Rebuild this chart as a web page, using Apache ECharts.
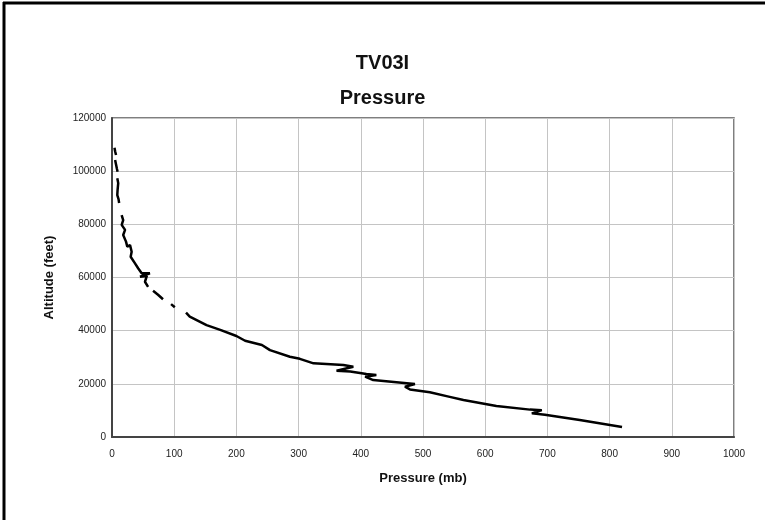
<!DOCTYPE html>
<html>
<head>
<meta charset="utf-8">
<script src="https://cdn.jsdelivr.net/npm/echarts@6/dist/echarts.min.js"></script>
<style>
html,body{margin:0;padding:0;background:#fff;}
#chart{width:765px;height:520px;}
</style>
</head>
<body>
<div id="chart"></div>
<script>
// Pressure (mb) and altitude (ft); null marks a break in the trace
var pressure = [
  4, 5, 6.5, null,
  5, 6.5, 8, 9, null,
  8.5, 10, 9, 8.5, 10.5, 11.5, null,
  15.5, 18, 15.6, 21, 18, 22.5, 24.6, 29, 31.6, 30, 37, 42, 47.7, 61, 45, 56, 53, 58, null,
  66, 74, 82, null,
  95, 101, null,
  119, 125, 152, 174, 200, 214, 241, 254, 286, 302, 324, 372, 388, 361, 383, 409, 425, 407, 420, 474, 487, 471, 479, 511, 543, 565, 618, 672, 691, 675, 696, 752, 820
];
var altitude = [
  108800, 107500, 106100, null,
  104200, 102500, 100800, 99800, null,
  97300, 95500, 93000, 91000, 89500, 88000, null,
  83500, 81600, 79800, 77900, 76000, 73500, 71600, 72200, 69700, 67800, 65300, 63500, 61600, 61600, 60300, 60600, 58400, 56500, null,
  55000, 53500, 51800, null,
  50000, 48800, null,
  46800, 45300, 42100, 40300, 38000, 36200, 34600, 32700, 30200, 29400, 27700, 27100, 26400, 24900, 24600, 23700, 23300, 22700, 21400, 20200, 19900, 18900, 17900, 16800, 15100, 13900, 11660, 10300, 10100, 8900, 8400, 6400, 3800
];
var titleLines = ['TV03I', 'Pressure'];
var xName = 'Pressure (mb)';
var yName = 'Altitude (feet)';

// split into segments at nulls
var segments = [];
var cur = [];
for (var i = 0; i < pressure.length; i++) {
  if (pressure[i] === null) {
    if (cur.length) segments.push(cur);
    cur = [];
  } else {
    cur.push([pressure[i], altitude[i]]);
  }
}
if (cur.length) segments.push(cur);

var FONT = 'Liberation Sans, Arial, sans-serif';
var series = segments.map(function (seg) {
  return {
    type: 'line',
    data: seg,
    showSymbol: false,
    symbol: 'none',
    lineStyle: { color: '#000', width: 2.5 },
    silent: true,
    animation: false
  };
});
function plain(v) { return String(v); }

var chart = echarts.init(document.getElementById('chart'), null, { renderer: 'canvas' });
chart.setOption({
  backgroundColor: '#fff',
  animation: false,
  title: [
    { text: titleLines[0], left: 'center', top: 48, textStyle: { fontFamily: FONT, fontSize: 20, fontWeight: 'bold', color: '#111' } },
    { text: titleLines[1], left: 'center', top: 83, textStyle: { fontFamily: FONT, fontSize: 20, fontWeight: 'bold', color: '#111' } }
  ],
  grid: { left: 112, right: 31, top: 118, bottom: 83, show: true, borderColor: '#555', borderWidth: 1.5, backgroundColor: 'transparent' },
  xAxis: {
    type: 'value', min: 0, max: 1000, interval: 100,
    name: xName, nameLocation: 'middle', nameGap: 35,
    nameTextStyle: { fontFamily: FONT, fontSize: 13, fontWeight: 'bold', color: '#111' },
    axisLine: { show: true, lineStyle: { color: '#444', width: 2 } },
    axisTick: { show: false },
    axisLabel: { fontFamily: FONT, fontSize: 10, color: '#222', margin: 12, formatter: plain },
    splitLine: { show: true, lineStyle: { color: '#c4c4c4', width: 1 } }
  },
  yAxis: {
    type: 'value', min: 0, max: 120000, interval: 20000,
    name: yName, nameLocation: 'middle', nameGap: 56,
    nameTextStyle: { fontFamily: FONT, fontSize: 13, fontWeight: 'bold', color: '#111' },
    axisLine: { show: true, lineStyle: { color: '#444', width: 2 } },
    axisTick: { show: false },
    axisLabel: { fontFamily: FONT, fontSize: 10, color: '#222', margin: 6, formatter: plain },
    splitLine: { show: true, lineStyle: { color: '#c4c4c4', width: 1 } }
  },
  graphic: [
    { type: 'line', shape: { x1: 4, y1: 2, x2: 4, y2: 520 }, style: { stroke: '#000', lineWidth: 3 }, silent: true },
    { type: 'line', shape: { x1: 3, y1: 3, x2: 765, y2: 3 }, style: { stroke: '#000', lineWidth: 3 }, silent: true }
  ],
  series: series
});
</script>
</body>
</html>
